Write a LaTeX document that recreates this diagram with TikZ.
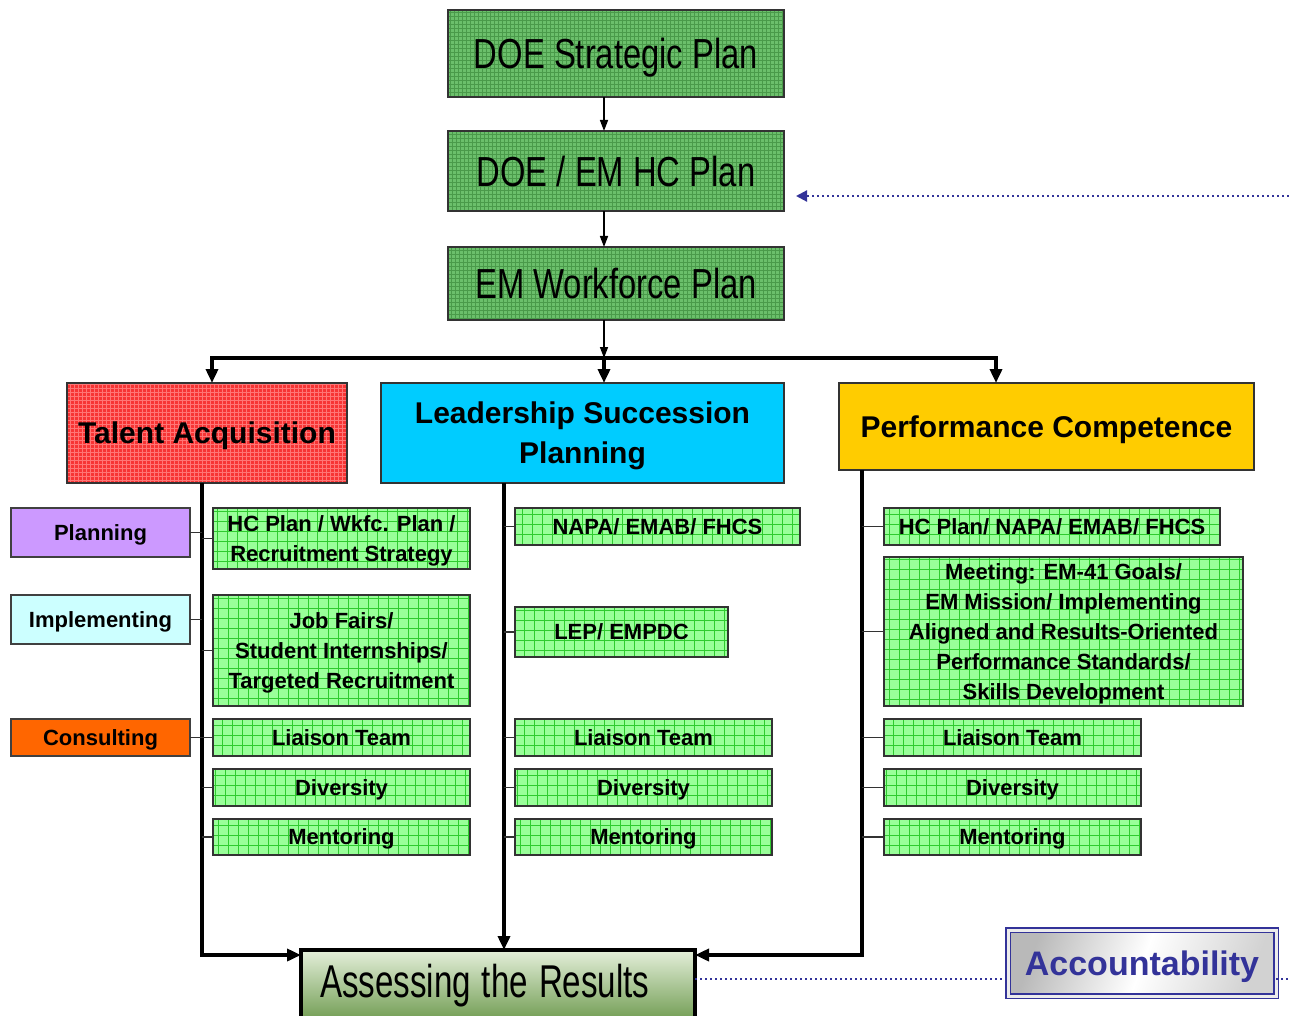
\documentclass[tikz,border=0pt]{standalone}
\usepackage{fontspec}
\setmainfont{Liberation Sans}
\usepackage{graphicx}
\usepackage{xcolor}
\usepackage{tikz}
\usetikzlibrary{arrows.meta,positioning,calc}
\definecolor{plangreen}{HTML}{6BBF6B}
\definecolor{plangrid}{HTML}{4A9A4A}
\definecolor{itemgreen}{HTML}{99FF99}
\definecolor{itemgrid}{HTML}{2FCB2F}
\definecolor{talentred}{HTML}{F73434}
\definecolor{talentgrid}{HTML}{FF7575}
\definecolor{leadcyan}{HTML}{00CCFF}
\definecolor{perfgold}{HTML}{FFCC00}
\definecolor{lavender}{HTML}{CC99FF}
\definecolor{icecyan}{HTML}{CCFFFF}
\definecolor{consorange}{HTML}{FF6600}
\definecolor{navy}{HTML}{333399}
\definecolor{assesstop}{HTML}{E4EFDA}
\definecolor{assessbot}{HTML}{6F9B50}
\newcommand\squeezed[2]{\scalebox{#1}[1]{#2}}
\newcommand\planfont{\fontsize{42}{50}\selectfont}
\newcommand\headfont{\fontsize{30}{40}\selectfont\bfseries}
\newcommand\itemfont{\fontsize{22}{30}\selectfont\bfseries}
\tikzset{
  gridfill/.style n args={3}{
    fill=#1,
    path picture={\draw[#2, line width=0.6pt]
      (path picture bounding box.south west) grid[step=#3]
      (path picture bounding box.north east);}
  },
  planbox/.style={
    rectangle, draw=black!80, line width=1.3pt,
    gridfill={plangreen}{plangrid}{4pt},
    minimum width=336pt, anchor=north west,
    outer sep=0pt, text depth=0pt, font=\planfont
  },
  headbox/.style={
    rectangle, draw=black!80, line width=1.3pt, fill=#1,
    anchor=north west, outer sep=0pt, align=center,
    text depth=0pt, font=\headfont
  },
  headbox/.default=leadcyan,
  itembox/.style={
    rectangle, draw=black!80, line width=1.3pt,
    gridfill={itemgreen}{itemgrid}{10pt},
    anchor=north west, outer sep=0pt, inner sep=2pt,
    text depth=0pt, align=center, font=\itemfont
  },
  tagbox/.style={
    rectangle, draw=black!75, line width=1.3pt, fill=#1,
    minimum width=179pt, anchor=north west, outer sep=0pt,
    text depth=0pt, font=\itemfont
  },
  flowarrow/.style={
    -{Triangle[length=11pt, width=8pt]}, line width=1.5pt, black
  },
  bigarrow/.style={
    -{Triangle[length=14pt, width=12pt]}, line width=4pt, black
  },
  spine/.style={line width=4pt, black},
  thinlink/.style={line width=1.3pt, black!80},
  dotlink/.style={line width=2.2pt, navy, dash pattern=on 2.4pt off 2.6pt},
}

\begin{document}
\begin{tikzpicture}[x=1pt, y=1pt]
\useasboundingbox (0,0) rectangle (1289,-1016);

% Plan cascade
\node[planbox, minimum height=87pt] (strat) at (448,-10)
  {\squeezed{0.78}{DOE Strategic Plan}};
\node[planbox, minimum height=80pt] (hcplan) at (448,-131)
  {\squeezed{0.78}{DOE / EM HC Plan}};
\node[planbox, minimum height=73pt] (wfplan) at (448,-247)
  {\squeezed{0.78}{EM Workforce Plan}};

% Guide lines for the spines
\coordinate (midx) at (604,0);
\coordinate (taspine) at (202,0);
\coordinate (lsspine) at (504,0);
\coordinate (pcspine) at (862,0);
\coordinate (barL) at (212,-358);
\coordinate (barR) at (996,-358);
\coordinate (joinY) at (0,-955);
\coordinate (acctY) at (0,-979);
\coordinate (edgeTop) at (1289,-196);
\coordinate (edgeBot) at (1289,-979);

\draw[flowarrow] (strat.south -| midx) -- (hcplan.north -| midx);
\draw[flowarrow] (hcplan.south -| midx) -- (wfplan.north -| midx);
\draw[flowarrow] (wfplan.south -| midx) -- (midx |- barL);

% Three streams
\node[headbox=talentred, gridfill={talentred}{talentgrid}{4pt},
  minimum width=280pt, minimum height=100pt] (talent) at (67,-383)
  {Talent Acquisition};
\node[headbox=leadcyan, minimum width=403pt, minimum height=100pt]
  (lead) at (381,-383) {Leadership Succession\\Planning};
\node[headbox=perfgold, minimum width=415pt, minimum height=87pt]
  (perf) at (839,-383) {Performance Competence};

\draw[bigarrow] (midx |- barL) -- (barL) -- (talent.north -| barL);
\draw[bigarrow] (midx |- barL) -- (barR) -- (perf.north -| barR);
\draw[bigarrow] (midx |- barL) -- (lead.north -| midx);

% Stage tags
\node[tagbox=lavender, minimum height=49pt] (plan) at (11,-508) {Planning};
\node[tagbox=icecyan, minimum height=49pt] (impl) at (11,-595) {Implementing};
\node[tagbox=consorange, minimum height=37pt] (cons) at (11,-719) {Consulting};

% Talent column
\node[itembox, minimum width=257pt, minimum height=61pt] (ta1) at (213,-508)
  {HC Plan / Wkfc. Plan /\\Recruitment Strategy};
\node[itembox, minimum width=257pt, minimum height=111pt] (ta2) at (213,-595)
  {Job Fairs/\\Student Internships/\\Targeted Recruitment};
\node[itembox, minimum width=257pt, minimum height=37pt] (ta3) at (213,-719) {Liaison Team};
\node[itembox, minimum width=257pt, minimum height=37pt] (ta4) at (213,-769) {Diversity};
\node[itembox, minimum width=257pt, minimum height=36pt] (ta5) at (213,-819) {Mentoring};

% Leadership column
\node[itembox, minimum width=285pt, minimum height=37pt] (ls1) at (515,-508)
  {NAPA/ EMAB/ FHCS};
\node[itembox, minimum width=213pt, minimum height=50pt] (ls2) at (515,-607)
  {LEP/ EMPDC};
\node[itembox, minimum width=257pt, minimum height=37pt] (ls3) at (515,-719) {Liaison Team};
\node[itembox, minimum width=257pt, minimum height=37pt] (ls4) at (515,-769) {Diversity};
\node[itembox, minimum width=257pt, minimum height=36pt] (ls5) at (515,-819) {Mentoring};

% Performance column
\node[itembox, minimum width=336pt, minimum height=37pt] (pc1) at (884,-508)
  {HC Plan/ NAPA/ EMAB/ FHCS};
\node[itembox, minimum width=359pt, minimum height=149pt] (pc2) at (884,-557)
  {Meeting: EM-41 Goals/\\EM Mission/ Implementing\\Aligned and Results-Oriented\\Performance Standards/\\Skills Development};
\node[itembox, minimum width=257pt, minimum height=37pt] (pc3) at (884,-719) {Liaison Team};
\node[itembox, minimum width=257pt, minimum height=37pt] (pc4) at (884,-769) {Diversity};
\node[itembox, minimum width=257pt, minimum height=36pt] (pc5) at (884,-819) {Mentoring};

% Results and accountability
\node[rectangle, draw=black, line width=4pt, top color=assesstop,
  bottom color=assessbot, anchor=north west, outer sep=0pt,
  minimum width=394pt, minimum height=72pt, inner sep=0pt,
  text width=356pt, align=left, font=\fontsize{46}{52}\selectfont]
  (assess) at (301,-950) {\squeezed{0.72}{Assessing the Results}};
\node[rectangle, draw=navy, line width=1.6pt, double=gray!15,
  double distance=3pt, left color=gray!55, right color=gray!35,
  middle color=white, shading angle=70, anchor=north west,
  outer sep=0pt, minimum width=268pt, minimum height=66pt,
  text=navy, text depth=0pt, font=\fontsize{34}{40}\selectfont\bfseries]
  (acct) at (1008,-930) {Accountability};

% Spines into the results
\draw[bigarrow] (talent.south -| taspine) |- (assess.west |- joinY);
\draw[bigarrow] (lead.south -| lsspine) -- (assess.north -| lsspine);
\draw[bigarrow] (perf.south -| pcspine) |- (assess.east |- joinY);

% Branches
\foreach \n in {ta1,ta2,ta3,ta4,ta5}
  \draw[thinlink] (\n.west -| taspine) -- (\n.west);
\foreach \n in {ls1,ls2,ls3,ls4,ls5}
  \draw[thinlink] (\n.west -| lsspine) -- (\n.west);
\foreach \n in {pc1,pc2,pc3,pc4,pc5}
  \draw[thinlink] (\n.west -| pcspine) -- (\n.west);
\foreach \n in {plan,impl,cons}
  \draw[thinlink] (\n.east) -- (\n.east -| taspine);

% Feedback loop
\draw[dotlink] (assess.east |- acctY) -- (acct.west |- acctY);
\draw[dotlink] (acct.east |- acctY) -- (edgeBot);
\draw[dotlink, -{Triangle[length=11pt, width=11pt]}, shorten >=12pt]
  (edgeTop) -- (hcplan.east |- edgeTop);

\end{tikzpicture}
\end{document}
